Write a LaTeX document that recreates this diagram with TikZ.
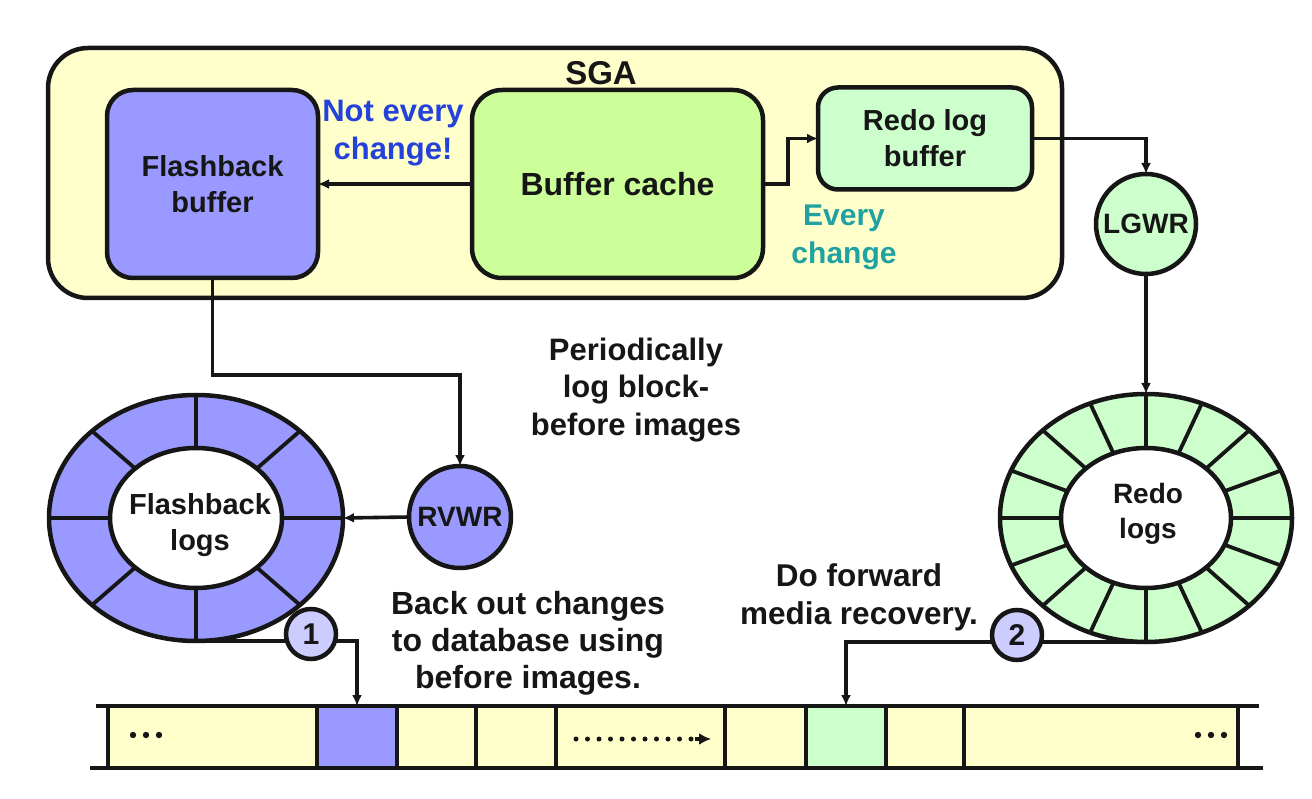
\documentclass[tikz,border=0pt]{standalone}
\usepackage{fontspec}
\setmainfont{Liberation Sans}
\usetikzlibrary{arrows.meta,shapes.geometric,backgrounds}

\definecolor{sgaY}{HTML}{FFFFCC}
\definecolor{fbBlue}{HTML}{9999FF}
\definecolor{cacheG}{HTML}{CCFF99}
\definecolor{mint}{HTML}{CCFFCC}
\definecolor{lav}{HTML}{CCCCFF}
\definecolor{ink}{HTML}{161616}
\definecolor{noteBlue}{HTML}{2442DA}
\definecolor{noteTeal}{HTML}{20A2A2}

\newcommand\figfont[2]{\bfseries\fontsize{#1}{#2}\selectfont}

\begin{document}
\begin{tikzpicture}[x=1pt,y=-1pt,
  every node/.style={inner sep=0pt, outer sep=0pt, text=ink},
  block/.style={draw=ink, line width=4.5pt, rounded corners=26pt, align=center, font=\figfont{29}{36}},
  conn/.style={draw=ink, line width=3.6pt, -{Latex[length=11pt,width=10pt]}},
  proc/.style={circle, draw=ink, line width=4.5pt, font=\figfont{28}{30}},
  ring/.style={ellipse, draw=ink, line width=4.5pt},
  spoke/.style={draw=ink, line width=3.8pt},
  note/.style={align=center, font=\figfont{31}{37.5}},
  badge/.style={circle, draw=ink, line width=4.5pt, fill=lav, minimum size=50pt, font=\figfont{30}{30}},
  cell/.style={minimum width=80pt, minimum height=62pt}]

\useasboundingbox (0,0) rectangle (1312,799);

% --- SGA and its buffers ---
\node[block, fill=sgaY, rounded corners=40pt, minimum width=1014pt, minimum height=250pt] (sga) at (555,173) {};
\node[font=\figfont{33}{33}] (sgalbl) at (601,73) {SGA};
\node[block, fill=fbBlue, minimum width=211pt, minimum height=188pt] (fbuf) at (212.5,184) {Flashback\\buffer};
\node[block, fill=cacheG, rounded corners=30pt, minimum width=291pt, minimum height=188pt, font=\figfont{32}{36}] (bcache) at (617.5,184) {Buffer cache};
\node[block, fill=mint, rounded corners=20pt, minimum width=214pt, minimum height=102pt] (rbuf) at (925,138.5) {Redo log\\buffer};

% --- background processes ---
\node[proc, fill=mint, minimum size=100pt] (lgwr) at (1146,224) {LGWR};
\node[proc, fill=fbBlue, minimum size=102pt] (rvwr) at (460,517) {RVWR};

% --- flashback log ring (8 slots) ---
\node[ring, fill=fbBlue, minimum width=294pt, minimum height=246pt] (flogs) at (196,518) {};
\foreach \t in {0,45,...,315}
  \draw[spoke] ({196+86*cos(\t)},{518+70*sin(\t)}) -- ({196+147*cos(\t)},{518+123*sin(\t)});
\node[ring, fill=white, minimum width=172pt, minimum height=140pt] (flogsin) at (196,518) {};
\node[note, font=\figfont{29}{36}] (flogstxt) at (200,525) {Flashback\\logs};

% --- redo log ring (16 slots) ---
\node[ring, fill=mint, minimum width=292pt, minimum height=248pt] (rlogs) at (1146,518) {};
\foreach \t in {0,22.5,...,337.5}
  \draw[spoke] ({1146+85*cos(\t)},{518+70*sin(\t)}) -- ({1146+146*cos(\t)},{518+124*sin(\t)});
\node[ring, fill=white, minimum width=170pt, minimum height=140pt] (rlogsin) at (1146,518) {};
\node[note, font=\figfont{28}{35}] (rlogstxt) at (1148,514) {Redo\\logs};

% --- data file blocks ---
\fill[sgaY] (108,706) rectangle (1238,768);
\node[cell, fill=fbBlue] (bcell) at (357,737) {};
\node[cell, fill=mint] (gcell) at (846,737) {};
\foreach \x in {108,317,397,476,556,725,806,886,964,1238}
  \draw[ink, line width=4.2pt] (\x,706) -- (\x,768);
\draw[ink, line width=4.8pt] (96,706) -- (1259,706);
\draw[ink, line width=4.8pt] (90,768) -- (1263,768);
\foreach \x in {133,146,159} \fill[ink] (\x,735) circle (3.2);
\foreach \x in {1198,1211,1224} \fill[ink] (\x,735) circle (3.2);
\draw[ink, line width=5pt, line cap=round, dash pattern=on 0pt off 11.5pt] (576,739) -- (697,739);
\coordinate (dotend) at (711,739);
\draw[ink, line width=3.6pt, -{Latex[length=12pt,width=12pt]}] (695,739) -- (dotend);

% --- connectors ---
\draw[conn] (bcache.west) -- (fbuf.east);
\draw[conn] (bcache.east) -- ++(25,0) |- (rbuf.west);
\draw[conn] (rbuf.east) -| (lgwr.north);
\draw[conn] (lgwr.south) -- (rlogs.north);
\draw[conn] (fbuf.south) -- ++(0,97) -| (rvwr.north);
\draw[conn] (rvwr.west) -- (flogs.east);

\begin{pgfonlayer}{background}
  \draw[conn] (flogs.south) -- (flogs.south -| bcell.north) -- (bcell.north);
  \draw[conn] (rlogs.south) -- (rlogs.south -| gcell.north) -- (gcell.north);
\end{pgfonlayer}

\node[badge] (one) at (311,634) {1};
\node[badge] (two) at (1017,635) {2};

% --- annotations ---
\node[note, text=noteBlue] (nevery) at (393,133) {Not every\\change!};
\node[note, text=noteTeal, font=\figfont{30}{38}] (every) at (844,237) {Every\\change};
\node[note] (period) at (636,390) {Periodically\\log block-\\before images};
\node[note, font=\figfont{32}{37}] (backout) at (528,643) {Back out changes\\to database using\\before images.};
\node[note, font=\figfont{31.5}{38}] (forward) at (859,597) {Do forward\\media recovery.};

\end{tikzpicture}
\end{document}
